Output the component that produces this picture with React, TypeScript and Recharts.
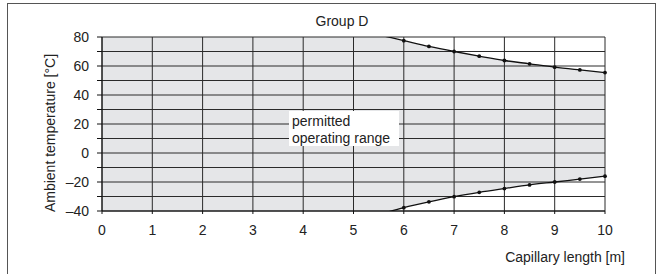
import React from "react";
import {
  ComposedChart,
  Line,
  Area,
  XAxis,
  YAxis,
  CartesianGrid,
  ReferenceArea,
} from "recharts";

const lengths = [5.5, 6, 6.5, 7, 7.5, 8, 8.5, 9, 9.5, 10];
const upperLimit = [81.5, 77.5, 73.5, 70, 66.8, 63.8, 61.5, 59.2, 57.3, 55.5];
const lowerLimit = [-42.5, -37.7, -33.7, -30.1, -27.1, -24.5, -22, -20, -18, -16];
const xTicks = [0, 1, 2, 3, 4, 5, 6, 7, 8, 9, 10];
const yTicks = [-40, -30, -20, -10, 0, 10, 20, 30, 40, 50, 60, 70, 80];
const yLabelled = [-40, -20, 0, 20, 40, 60, 80];

const title = "Group D";
const xLabel = "Capillary length [m]";
const yLabel = "Ambient temperature [°C]";
const noteLines = ["permitted", "operating range"];

const data = lengths.map((x, i) => ({ x, upper: upperLimit[i], lower: lowerLimit[i] }));

const FONT = "'Liberation Sans', Arial, Helvetica, sans-serif";
const GREY = "#e5e6e8";

const dot = (props: any) => {
  const { cx, cy, payload, index } = props;
  if (payload.x < 6) return <g key={`d${index}`} />;
  return <circle key={`d${index}`} cx={cx} cy={cy} r={1.9} fill="#111" stroke="none" />;
};

const fmtY = (v: number) =>
  yLabelled.includes(v) ? (v < 0 ? "\u2013" + Math.abs(v) : String(v)) : "";

export default function App() {
  const anyProps: any = {};
  return (
    <div
      style={{
        position: "absolute",
        left: 0,
        top: 0,
        width: 658,
        height: 274,
        overflow: "hidden",
        background: "#fff",
        fontFamily: FONT,
      }}
    >
      <div
        style={{
          position: "absolute",
          left: 7,
          top: 3,
          width: 647,
          height: 290,
          border: "1.6px solid #555",
        }}
      />
      <ComposedChart
        width={658}
        height={274}
        data={data}
        margin={{ top: 37, right: 53, left: 42, bottom: 33 }}
        style={{ position: "absolute", left: 0, top: 0 }}
      >
        <ReferenceArea
          {...anyProps}
          zIndex={-300}
          x1={0}
          x2={10}
          y1={-40}
          y2={80}
          fill={GREY}
          fillOpacity={1}
          stroke="none"
          ifOverflow="hidden"
        />
        <Area
          {...anyProps}
          zIndex={-200}
          type="monotone"
          dataKey={(d: any) => [d.upper, 80]}
          fill="#fff"
          fillOpacity={1}
          stroke="none"
          isAnimationActive={false}
          dot={false}
          activeDot={false}
        />
        <Area
          {...anyProps}
          zIndex={-200}
          type="monotone"
          dataKey={(d: any) => [-40, d.lower]}
          fill="#fff"
          fillOpacity={1}
          stroke="none"
          isAnimationActive={false}
          dot={false}
          activeDot={false}
        />
        <CartesianGrid {...anyProps} zIndex={-100} stroke="#2a2a2a" strokeWidth={1} fill="none" />
        <XAxis
          dataKey="x"
          type="number"
          domain={[0, 10]}
          ticks={xTicks}
          interval={0}
          height={30}
          tickSize={3}
          tickMargin={11}
          axisLine={{ stroke: "#111" }}
          tickLine={{ stroke: "#111" }}
          tick={{ fill: "#222", fontSize: 14, fontFamily: FONT }}
        />
        <YAxis
          type="number"
          domain={[-40, 80]}
          allowDataOverflow
          ticks={yTicks}
          interval={0}
          width={60}
          tickSize={5}
          tickMargin={8}
          tickFormatter={fmtY}
          axisLine={{ stroke: "#111" }}
          tickLine={{ stroke: "#111" }}
          tick={{ fill: "#222", fontSize: 14, fontFamily: FONT }}
        />
        <Line
          type="monotone"
          dataKey="upper"
          stroke="#111"
          strokeWidth={1.3}
          dot={dot}
          activeDot={false}
          isAnimationActive={false}
        />
        <Line
          type="monotone"
          dataKey="lower"
          stroke="#111"
          strokeWidth={1.3}
          dot={dot}
          activeDot={false}
          isAnimationActive={false}
        />
      </ComposedChart>
      <div
        style={{
          position: "absolute",
          left: 289,
          top: 111,
          width: 110,
          height: 35,
          background: "#fff",
        }}
      />
      <div
        style={{
          position: "absolute",
          left: 292,
          top: 113,
          fontSize: 14,
          lineHeight: "17px",
          color: "#222",
          whiteSpace: "nowrap",
        }}
      >
        {noteLines.map((t) => (
          <div key={t}>{t}</div>
        ))}
      </div>
      <div
        style={{
          position: "absolute",
          left: 242,
          width: 200,
          top: 13,
          textAlign: "center",
          fontSize: 14,
          lineHeight: "16px",
          color: "#222",
        }}
      >
        {title}
      </div>
      <div
        style={{
          position: "absolute",
          right: 658 - 625,
          top: 249,
          fontSize: 14,
          lineHeight: "16px",
          color: "#222",
          whiteSpace: "nowrap",
        }}
      >
        {xLabel}
      </div>
      <div
        style={{
          position: "absolute",
          left: 50 - 100,
          top: 133 - 8,
          width: 200,
          height: 16,
          lineHeight: "16px",
          textAlign: "center",
          fontSize: 14,
          color: "#222",
          whiteSpace: "nowrap",
          transform: "rotate(-90deg)",
        }}
      >
        {yLabel}
      </div>
    </div>
  );
}
